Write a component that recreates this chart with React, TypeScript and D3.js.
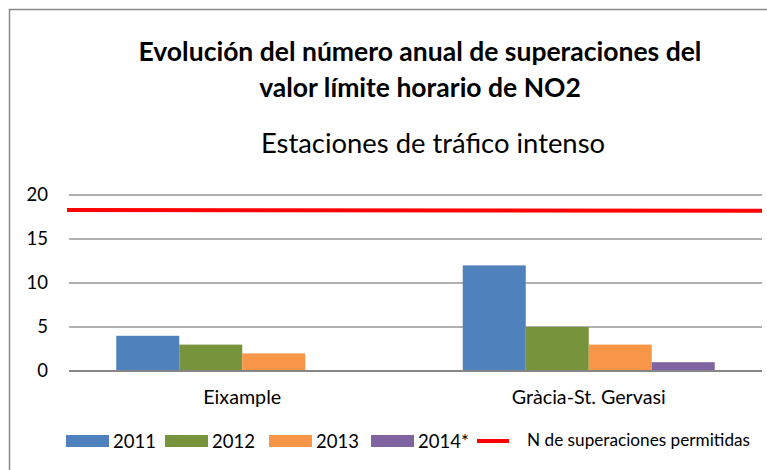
import React, { useEffect, useRef } from "react";
import * as d3 from "d3";

const categories = ["Eixample", "Gràcia-St. Gervasi"];
const years = ["2011", "2012", "2013", "2014*"];
const values2011 = [4, 12];
const values2012 = [3, 5];
const values2013 = [2, 3];
const values2014 = [0, 1];
const limitValues = [18.3, 18.2];
const limitLabel = "N de superaciones permitidas";
const yTicks = [0, 5, 10, 15, 20];
const colors = ["#4F81BD", "#77933C", "#F79646", "#8064A2"];

const App = () => {
  const svgRef = useRef<SVGSVGElement>(null);

  useEffect(() => {
    const svg = d3.select(svgRef.current);
    svg.selectAll("*").remove(); // Clear previous render

    const width = 767;
    const height = 470;
    const plot = { left: 69, right: 762, top: 195, bottom: 371 };
    const font = "Lato, 'Open Sans', sans-serif";

    const series = [values2011, values2012, values2013, values2014];

    const x0 = d3
      .scaleBand()
      .domain(categories)
      .range([plot.left, plot.right])
      .paddingInner(0.2727)
      .paddingOuter(0.1364);

    const x1 = d3.scaleBand().domain(years).range([0, x0.bandwidth()]);

    const y = d3.scaleLinear().domain([0, 20]).range([plot.bottom, plot.top]);

    // outer frame
    svg
      .append("rect")
      .attr("x", 9.5)
      .attr("y", 9.5)
      .attr("width", width)
      .attr("height", height)
      .attr("fill", "white")
      .attr("stroke", "#888")
      .attr("stroke-width", 1.5);

    // title
    const title = svg
      .append("text")
      .attr("text-anchor", "middle")
      .attr("font-family", font)
      .attr("font-weight", "bold")
      .attr("font-size", 26.5)
      .attr("fill", "#000");
    title.append("tspan").attr("x", 420).attr("y", 61).text("Evolución del número anual de superaciones del");
    title.append("tspan").attr("x", 420).attr("y", 97).text("valor límite horario de NO2");

    svg
      .append("text")
      .attr("x", 433)
      .attr("y", 153)
      .attr("text-anchor", "middle")
      .attr("font-family", font)
      .attr("font-size", 27.4)
      .attr("fill", "#000")
      .text("Estaciones de tráfico intenso");

    // gridlines
    svg
      .append("g")
      .selectAll("line")
      .data(yTicks)
      .join("line")
      .attr("x1", plot.left)
      .attr("x2", plot.right)
      .attr("y1", (d) => y(d))
      .attr("y2", (d) => y(d))
      .attr("stroke", (d) => (d === 0 ? "#868686" : "#969696"))
      .attr("stroke-width", (d) => (d === 0 ? 2 : 1.5));

    // y labels
    svg
      .append("g")
      .selectAll("text")
      .data(yTicks)
      .join("text")
      .attr("x", 48)
      .attr("y", (d) => y(d))
      .attr("dy", "0.35em")
      .attr("text-anchor", "end")
      .attr("font-family", font)
      .attr("font-size", 18.5)
      .text((d) => d);

    // bars
    const groups = svg
      .append("g")
      .selectAll("g")
      .data(categories)
      .join("g")
      .attr("transform", (d) => `translate(${x0(d)},0)`);

    groups
      .selectAll("rect")
      .data((d, i) => years.map((yr, k) => ({ yr, v: series[k][i], c: colors[k] })))
      .join("rect")
      .attr("x", (d) => x1(d.yr)!)
      .attr("width", x1.bandwidth())
      .attr("y", (d) => y(d.v))
      .attr("height", (d) => y(0) - y(d.v) - 1)
      .attr("fill", (d) => d.c);

    // limit line
    const limitLine = d3
      .line<number>()
      .x((d, i) => (i === 0 ? plot.left - 2 : plot.right))
      .y((d) => y(d));

    svg
      .append("path")
      .datum(limitValues)
      .attr("d", limitLine)
      .attr("fill", "none")
      .attr("stroke", "#FF0000")
      .attr("stroke-width", 4);

    // category labels
    svg
      .append("g")
      .selectAll("text")
      .data(categories)
      .join("text")
      .attr("x", (d) => x0(d)! + x0.bandwidth() / 2)
      .attr("y", 404)
      .attr("text-anchor", "middle")
      .attr("font-family", font)
      .attr("font-size", 19.7)
      .text((d) => d);

    // legend
    const legendX = [66, 165, 269, 371];
    const legend = svg.append("g");
    years.forEach((yr, k) => {
      legend
        .append("rect")
        .attr("x", legendX[k])
        .attr("y", 435)
        .attr("width", 43)
        .attr("height", 12)
        .attr("fill", colors[k]);
      legend
        .append("text")
        .attr("x", legendX[k] + 47)
        .attr("y", 448)
        .attr("font-family", font)
        .attr("font-size", 18.5)
        .text(yr);
    });
    legend
      .append("line")
      .attr("x1", 477)
      .attr("x2", 509)
      .attr("y1", 441)
      .attr("y2", 441)
      .attr("stroke", "#FF0000")
      .attr("stroke-width", 4);
    legend
      .append("text")
      .attr("x", 527)
      .attr("y", 446)
      .attr("font-family", font)
      .attr("font-size", 17.2)
      .text(limitLabel);
  }, []);

  return (
    <svg
      ref={svgRef}
      width={767}
      height={470}
      style={{ position: "absolute", left: 0, top: 0 }}
    ></svg>
  );
};

export default App;
